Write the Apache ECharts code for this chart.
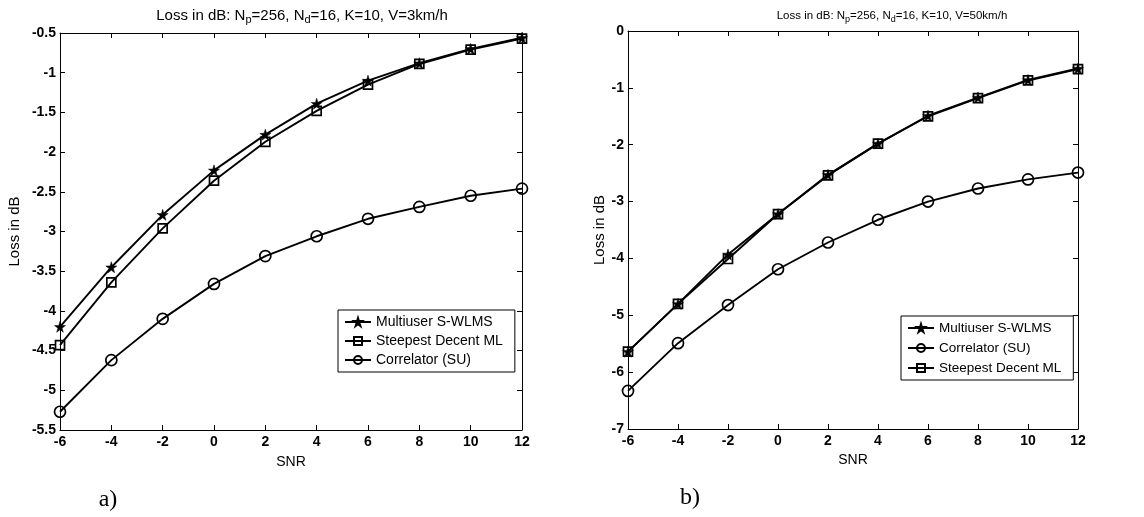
<!DOCTYPE html>
<html>
<head>
<meta charset="utf-8">
<script src="https://cdn.jsdelivr.net/npm/echarts@6/dist/echarts.min.js"></script>
<style>
html,body{margin:0;padding:0;background:#fff;}
#c{width:1144px;height:517px;}
</style>
</head>
<body>
<div id="c"></div>
<script>
// ---- data ----
const snr = [-6, -4, -2, 0, 2, 4, 6, 8, 10, 12];

// a) V = 3 km/h
const aSWLMS = [-4.20, -3.45, -2.79, -2.23, -1.78, -1.39, -1.10, -0.88, -0.70, -0.56];
const aSDML  = [-4.43, -3.64, -2.96, -2.36, -1.87, -1.48, -1.15, -0.89, -0.71, -0.57];
const aCorr  = [-5.27, -4.62, -4.10, -3.66, -3.31, -3.06, -2.84, -2.69, -2.55, -2.46];

// b) V = 50 km/h
const bSWLMS = [-5.64, -4.80, -3.93, -3.22, -2.53, -1.98, -1.49, -1.17, -0.86, -0.66];
const bCorr  = [-6.33, -5.49, -4.82, -4.19, -3.72, -3.32, -3.00, -2.77, -2.61, -2.49];
const bSDML  = [-5.64, -4.80, -4.01, -3.22, -2.54, -1.98, -1.50, -1.18, -0.87, -0.67];

const nameSWLMS = 'Multiuser S-WLMS';
const nameSDML = 'Steepest Decent ML';
const nameCorr = 'Correlator (SU)';

const titleA = ['Loss in dB: N', 'p', '=256, N', 'd', '=16, K=10, V=3km/h'];
const titleB = ['Loss in dB: N', 'p', '=256, N', 'd', '=16, K=10, V=50km/h'];

// ---- chart ----
const FONT = '"Liberation Sans", Arial, sans-serif';
const STAR = 'path://M50,0 L61,35 L98,35 L68,57 L79,91 L50,70 L21,91 L32,57 L2,35 L39,35 Z';

function pairs(xs, ys) { return xs.map((x, i) => [x, ys[i]]); }

function xAx(grid, pos, showLabel, fs, gap) {
  return {
    type: 'value', gridIndex: grid, position: pos, min: -6, max: 12, interval: 2,
    axisLine: { show: true, onZero: false, lineStyle: { color: '#000', width: 1 } },
    axisTick: { show: true, inside: true, length: 5, lineStyle: { color: '#000' } },
    axisLabel: { show: showLabel, color: '#000', fontSize: fs, fontWeight: 'bold', fontFamily: FONT, margin: 5 },
    splitLine: { show: false },
    name: showLabel ? 'SNR' : '', nameLocation: 'middle', nameGap: gap,
    nameTextStyle: { color: '#000', fontSize: 14, fontFamily: FONT }
  };
}
function yAx(grid, pos, showLabel, min, max, step, fs, gap) {
  return {
    type: 'value', gridIndex: grid, position: pos, min: min, max: max, interval: step,
    axisLine: { show: true, onZero: false, lineStyle: { color: '#000', width: 1 } },
    axisTick: { show: true, inside: true, length: 5, lineStyle: { color: '#000' } },
    axisLabel: { show: showLabel, color: '#000', fontSize: fs, fontWeight: 'bold', fontFamily: FONT, margin: 4 },
    splitLine: { show: false },
    name: showLabel ? 'Loss in dB' : '', nameLocation: 'middle', nameGap: gap, nameRotate: 90,
    nameTextStyle: { color: '#000', fontSize: 15, fontFamily: FONT }
  };
}

function mkSeries(name, data, kind, xi, yi, z) {
  const s = {
    name: name, type: 'line', xAxisIndex: xi, yAxisIndex: yi, data: data, z: z,
    showAllSymbol: true, animation: false,
    lineStyle: { color: '#000', width: 1.9 }
  };
  if (kind === 'star') {
    s.symbol = STAR; s.symbolSize = 11;
    s.itemStyle = { color: '#000', borderColor: '#000', borderWidth: 0.5 };
  } else if (kind === 'rect') {
    s.symbol = 'rect'; s.symbolSize = 9;
    s.itemStyle = { color: 'rgba(0,0,0,0)', borderColor: '#000', borderWidth: 1.7 };
  } else {
    s.symbol = 'circle'; s.symbolSize = 11;
    s.itemStyle = { color: 'rgba(0,0,0,0)', borderColor: '#000', borderWidth: 1.7 };
  }
  return s;
}

function titleGraphic(parts, x, y, fs, sfs) {
  const t = '{a|' + parts[0] + '}{s|' + parts[1] + '}{a|' + parts[2] + '}{s|' + parts[3] + '}{a|' + parts[4] + '}';
  return {
    type: 'text', x: x, y: y,
    style: {
      text: t, align: 'center', verticalAlign: 'middle',
      rich: {
        a: { fontSize: fs, fontFamily: FONT, fill: '#000', color: '#000' },
        s: { fontSize: sfs, fontFamily: FONT, fill: '#000', color: '#000', padding: [8, 0, 0, 0] }
      }
    }
  };
}

function legend(names, left, top, fs, gap, padR) {
  return {
    data: names, orient: 'vertical', left: left, top: top,
    backgroundColor: '#fff', borderColor: '#000', borderWidth: 1,
    padding: [5, padR, 5, 6], itemGap: gap, itemWidth: 26, itemHeight: 10,
    textStyle: { color: '#000', fontSize: fs, fontFamily: FONT },
    selectedMode: false
  };
}

const chart = echarts.init(document.getElementById('c'), null, { renderer: 'canvas' });
chart.setOption({
  backgroundColor: '#fff',
  animation: false,
  grid: [
    { left: 60, right: 622, top: 33, bottom: 87 },
    { left: 628, right: 66, top: 31, bottom: 88 }
  ],
  xAxis: [
    xAx(0, 'bottom', true, 14, 25), xAx(0, 'top', false, 14, 0),
    xAx(1, 'bottom', true, 14, 21), xAx(1, 'top', false, 14, 0)
  ],
  yAxis: [
    yAx(0, 'left', true, -5.5, -0.5, 0.5, 14, 38), yAx(0, 'right', false, -5.5, -0.5, 0.5, 14, 0),
    yAx(1, 'left', true, -7, 0, 1, 14, 21), yAx(1, 'right', false, -7, 0, 1, 14, 0)
  ],
  legend: [
    legend([nameSWLMS, nameSDML, nameCorr], 338, 310, 14, 5, 12),
    legend([nameSWLMS, nameCorr, nameSDML], 901, 316, 13.5, 6, 12)
  ],
  series: [
    mkSeries(nameSWLMS, pairs(snr, aSWLMS), 'star', 0, 0, 3),
    mkSeries(nameSDML, pairs(snr, aSDML), 'rect', 0, 0, 2),
    mkSeries(nameCorr, pairs(snr, aCorr), 'circle', 0, 0, 2),
    mkSeries(nameSWLMS, pairs(snr, bSWLMS), 'star', 2, 2, 3),
    mkSeries(nameCorr, pairs(snr, bCorr), 'circle', 2, 2, 2),
    mkSeries(nameSDML, pairs(snr, bSDML), 'rect', 2, 2, 2)
  ],
  graphic: [
    titleGraphic(titleA, 302, 16, 15, 11),
    titleGraphic(titleB, 892, 16, 11.5, 9),
    { type: 'text', x: 108, y: 500, style: { text: 'a)', align: 'center', verticalAlign: 'middle', fontSize: 24, fontFamily: '"Liberation Serif", "Times New Roman", serif', fill: '#000' } },
    { type: 'text', x: 690, y: 498, style: { text: 'b)', align: 'center', verticalAlign: 'middle', fontSize: 24, fontFamily: '"Liberation Serif", "Times New Roman", serif', fill: '#000' } }
  ]
});
</script>
</body>
</html>
